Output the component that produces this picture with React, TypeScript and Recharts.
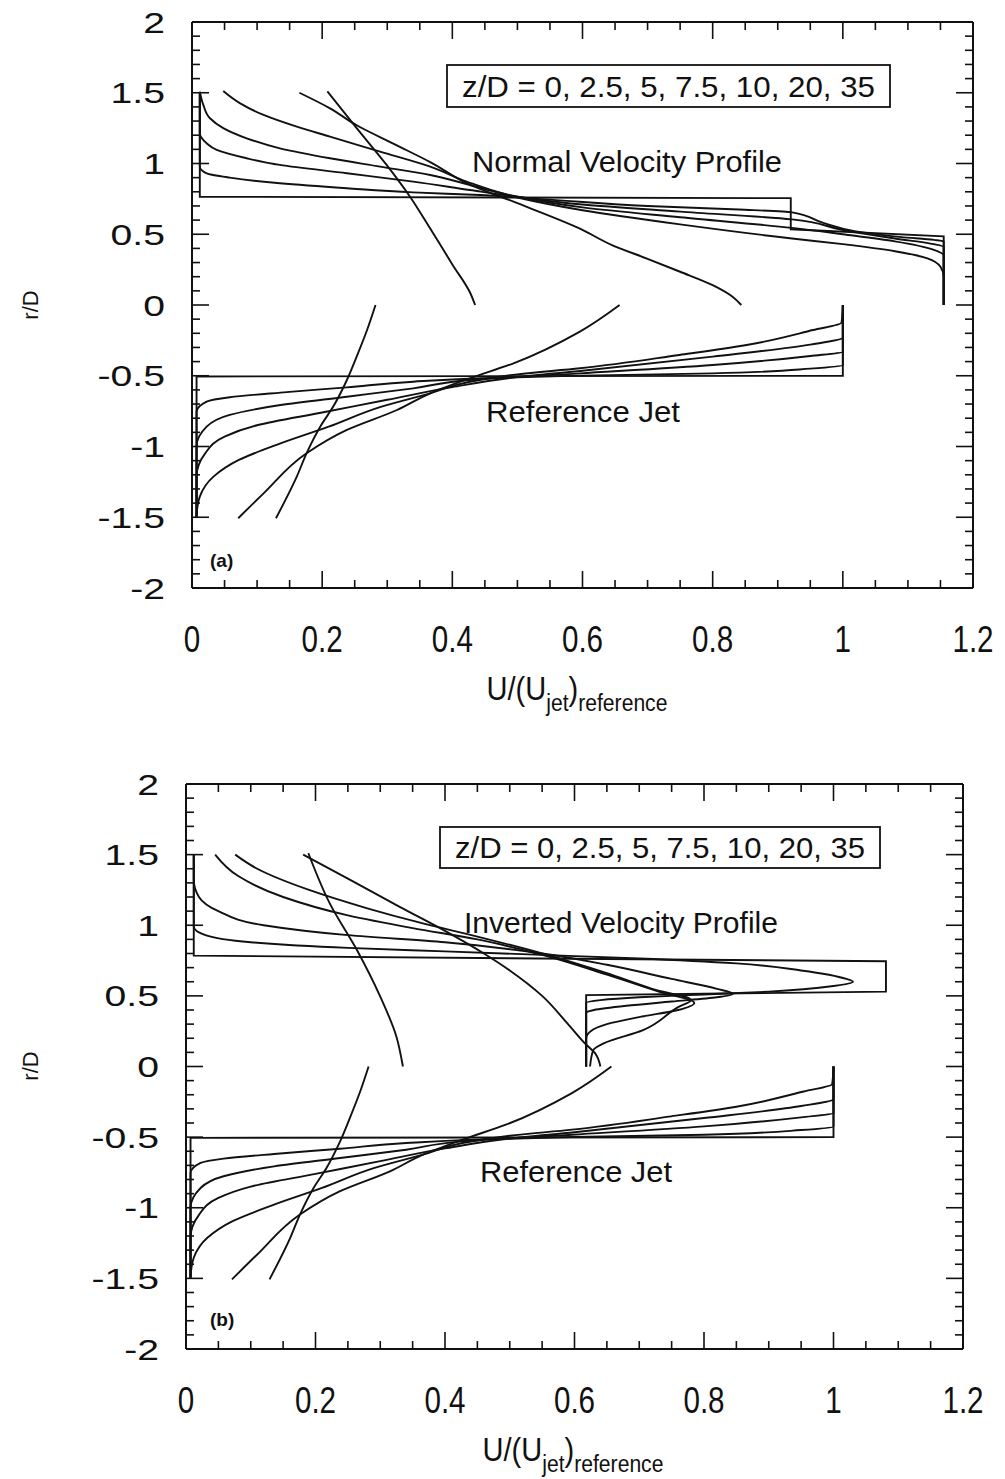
import React from "react";
import { ComposedChart, Line, XAxis, YAxis } from "recharts";

// tick values
const xTicks = [0, 0.05, 0.1, 0.15, 0.2, 0.25, 0.3, 0.35, 0.4, 0.45, 0.5, 0.55, 0.6, 0.65, 0.7, 0.75, 0.8, 0.85, 0.9, 0.95, 1, 1.05, 1.1, 1.15, 1.2];
const xLabels = [0, 0.2, 0.4, 0.6, 0.8, 1, 1.2];
const yTicks = [-2, -1.9, -1.8, -1.7, -1.6, -1.5, -1.4, -1.3, -1.2, -1.1, -1, -0.9, -0.8, -0.7, -0.6, -0.5, -0.4, -0.3, -0.2, -0.1, 0, 0.1, 0.2, 0.3, 0.4, 0.5, 0.6, 0.7, 0.8, 0.9, 1, 1.1, 1.2, 1.3, 1.4, 1.5, 1.6, 1.7, 1.8, 1.9, 2];
const yLabels = [-2, -1.5, -1, -0.5, 0, 0.5, 1, 1.5, 2];

// [U/Ujet, r/D] for z/D = 0, 2.5, 5, 7.5, 10, 20, 35 -- upper jet, normal profile (a)
const normalZ0 = [[0.012, 1.5], [0.012, 0.765], [0.92, 0.755], [0.92, 0.535], [1.155, 0.485], [1.155, 0]];
const normalZ25 = [[0.012, 1.5], [0.012, 0.977], [0.0225, 0.93], [0.058, 0.9], [0.135, 0.86], [0.238, 0.825], [0.34, 0.796], [0.443, 0.777], [0.55, 0.745], [0.7, 0.7], [0.84, 0.675], [0.922, 0.655], [0.97, 0.58], [1.02, 0.52], [1.09, 0.48], [1.14, 0.46], [1.155, 0.45], [1.155, 0]];
const normalZ5 = [[0.012, 1.5], [0.012, 1.213], [0.0225, 1.143], [0.038, 1.096], [0.084, 1.037], [0.135, 0.99], [0.238, 0.931], [0.34, 0.872], [0.427, 0.813], [0.5, 0.765], [0.6, 0.71], [0.75, 0.66], [0.922, 0.605], [1.0, 0.53], [1.08, 0.47], [1.14, 0.43], [1.155, 0.41], [1.155, 0]];
const normalZ75 = [[0.012, 1.508], [0.0174, 1.414], [0.0276, 1.32], [0.048, 1.25], [0.084, 1.178], [0.135, 1.107], [0.212, 1.037], [0.289, 0.978], [0.366, 0.919], [0.427, 0.848], [0.5, 0.765], [0.6, 0.69], [0.75, 0.62], [0.922, 0.545], [1.0, 0.5], [1.08, 0.45], [1.14, 0.39], [1.155, 0.35], [1.155, 0]];
const normalZ10 = [[0.048, 1.512], [0.074, 1.425], [0.11, 1.343], [0.161, 1.26], [0.212, 1.19], [0.289, 1.084], [0.366, 0.978], [0.422, 0.872], [0.5, 0.76], [0.6, 0.67], [0.75, 0.57], [0.922, 0.47], [1.0, 0.43], [1.08, 0.38], [1.13, 0.33], [1.15, 0.27], [1.155, 0.2], [1.155, 0]];
const normalZ20 = [[0.165, 1.5], [0.212, 1.39], [0.253, 1.27], [0.314, 1.13], [0.366, 1.01], [0.427, 0.85], [0.494, 0.73], [0.596, 0.54], [0.647, 0.42], [0.698, 0.33], [0.75, 0.235], [0.8, 0.14], [0.83, 0.06], [0.844, 0]];
const normalZ35 = [[0.208, 1.51], [0.253, 1.25], [0.299, 0.99], [0.335, 0.765], [0.366, 0.54], [0.401, 0.28], [0.427, 0.09], [0.435, 0]];

// upper jet, inverted profile (b)
const invertedZ0 = [[0.012, 1.5], [0.012, 0.785], [1.081, 0.745], [1.081, 0.53], [0.618, 0.505], [0.618, 0]];
const invertedZ25 = [[0.012, 1.5], [0.012, 0.99], [0.03, 0.93], [0.1, 0.88], [0.25, 0.84], [0.4, 0.815], [0.55, 0.79], [0.7, 0.765], [0.85, 0.73], [0.95, 0.68], [1.02, 0.62], [1.03, 0.6], [1.0, 0.57], [0.9, 0.53], [0.8, 0.51], [0.7, 0.49], [0.64, 0.47], [0.618, 0.45], [0.618, 0]];
const invertedZ5 = [[0.012, 1.5], [0.012, 1.32], [0.02, 1.2], [0.05, 1.1], [0.12, 1.0], [0.25, 0.93], [0.4, 0.88], [0.55, 0.8], [0.65, 0.72], [0.75, 0.62], [0.82, 0.55], [0.845, 0.515], [0.82, 0.49], [0.75, 0.46], [0.68, 0.43], [0.63, 0.4], [0.618, 0.38], [0.618, 0]];
const invertedZ75 = [[0.045, 1.5], [0.08, 1.35], [0.15, 1.2], [0.25, 1.07], [0.35, 0.98], [0.45, 0.9], [0.55, 0.79], [0.65, 0.65], [0.73, 0.53], [0.785, 0.45], [0.76, 0.4], [0.7, 0.35], [0.65, 0.3], [0.625, 0.25], [0.618, 0.2], [0.618, 0]];
const invertedZ10 = [[0.076, 1.5], [0.11, 1.4], [0.19, 1.25], [0.28, 1.12], [0.36, 1.02], [0.45, 0.92], [0.55, 0.8], [0.65, 0.66], [0.72, 0.55], [0.78, 0.47], [0.76, 0.42], [0.706, 0.258], [0.645, 0.164], [0.629, 0.117], [0.624, 0]];
const invertedZ20 = [[0.181, 1.5], [0.25, 1.33], [0.33, 1.13], [0.4, 0.96], [0.46, 0.8], [0.5, 0.68], [0.55, 0.5], [0.59, 0.3], [0.616, 0.164], [0.632, 0.093], [0.64, 0]];
const invertedZ35 = [[0.189, 1.51], [0.222, 1.155], [0.264, 0.825], [0.3, 0.495], [0.325, 0.211], [0.335, 0]];

// lower jet, reference (both panels)
const refZ0 = [[0.007, -1.5], [0.007, -0.505], [1.0, -0.5], [1.0, 0]];
const refZ25 = [[0.007, -1.5], [0.007, -0.754], [0.0225, -0.683], [0.058, -0.652], [0.136, -0.619], [0.238, -0.582], [0.34, -0.542], [0.443, -0.518], [0.596, -0.499], [0.8, -0.483], [0.95, -0.45], [1.0, -0.424], [1.0, 0]];
const refZ5 = [[0.007, -1.5], [0.007, -1.0], [0.0225, -0.86], [0.058, -0.777], [0.136, -0.707], [0.238, -0.648], [0.34, -0.589], [0.427, -0.53], [0.596, -0.483], [0.8, -0.424], [0.95, -0.36], [1.0, -0.33], [1.0, 0]];
const refZ75 = [[0.007, -1.5], [0.007, -1.21], [0.02, -1.05], [0.05, -0.93], [0.1, -0.85], [0.2, -0.76], [0.3, -0.67], [0.4, -0.58], [0.5, -0.51], [0.6, -0.465], [0.8, -0.365], [0.95, -0.28], [1.0, -0.23], [1.0, 0]];
const refZ10 = [[0.007, -1.48], [0.012, -1.354], [0.033, -1.213], [0.072, -1.095], [0.136, -0.978], [0.21, -0.86], [0.29, -0.72], [0.366, -0.624], [0.427, -0.542], [0.5, -0.49], [0.596, -0.447], [0.749, -0.353], [0.852, -0.283], [0.954, -0.177], [0.998, -0.125], [1.0, 0]];
const refZ20 = [[0.071, -1.507], [0.11, -1.331], [0.176, -1.048], [0.238, -0.883], [0.315, -0.742], [0.366, -0.624], [0.427, -0.518], [0.494, -0.412], [0.596, -0.188], [0.657, 0]];
const refZ35 = [[0.129, -1.507], [0.161, -1.213], [0.176, -1.048], [0.197, -0.86], [0.217, -0.718], [0.238, -0.53], [0.253, -0.365], [0.269, -0.177], [0.282, 0]];

const normalSet = [normalZ0, normalZ25, normalZ5, normalZ75, normalZ10, normalZ20, normalZ35];
const invertedSet = [invertedZ0, invertedZ25, invertedZ5, invertedZ75, invertedZ10, invertedZ20, invertedZ35];
const refSet = [refZ0, refZ25, refZ5, refZ75, refZ10, refZ20, refZ35];

const FONT = "'Liberation Sans', Arial, Helvetica, sans-serif";
const INK = "#111";

const toRows = (pts: number[][]) => pts.map(([u, r]) => ({ u, r })).sort((a, b) => a.r - b.r);

const BottomTick = (props: any) => {
  const { x, y, payload } = props;
  const major = xLabels.includes(payload.value);
  return (
    <g>
      <line x1={x} x2={x} y1={y} y2={y - (major ? 17 : 8)} stroke={INK} strokeWidth={1.6} />
      {major && (
        <text transform={`translate(${x},${y + 64}) scale(0.8,1)`} textAnchor="middle" fontSize={37} fontFamily={FONT} fill={INK}>
          {payload.value}
        </text>
      )}
    </g>
  );
};

const TopTick = (props: any) => {
  const { x, y, payload } = props;
  const major = xLabels.includes(payload.value);
  return <line x1={x} x2={x} y1={y} y2={y + (major ? 17 : 8)} stroke={INK} strokeWidth={1.6} />;
};

const LeftTick = (props: any) => {
  const { x, y, payload } = props;
  const major = yLabels.includes(payload.value);
  return (
    <g>
      <line x1={x} x2={x + (major ? 17 : 8)} y1={y} y2={y} stroke={INK} strokeWidth={1.6} />
      {major && (
        <text transform={`translate(${x - 27},${y + 10.5}) scale(1.35,1)`} textAnchor="end" fontSize={29} fontFamily={FONT} fill={INK}>
          {payload.value}
        </text>
      )}
    </g>
  );
};

const RightTick = (props: any) => {
  const { x, y, payload } = props;
  const major = yLabels.includes(payload.value);
  return <line x1={x} x2={x - (major ? 17 : 8)} y1={y} y2={y} stroke={INK} strokeWidth={1.6} />;
};

interface PanelProps {
  height: number;
  top: number;
  bottom: number;
  left: number;
  right: number;
  upper: number[][][];
}

const frame = { stroke: INK, strokeWidth: 2 };

const Panel = ({ height, top, bottom, left, right, upper }: PanelProps) => {
  const profiles = [...upper, ...refSet];
  return (
    <ComposedChart width={1005} height={height} margin={{ top: 0, right: 0, bottom: 0, left: 0 }}>
      <XAxis xAxisId="b" type="number" dataKey="u" domain={[0, 1.2]} ticks={xTicks} interval={0} height={bottom}
        tickSize={0} tickMargin={0} tickLine={false} axisLine={frame} tick={(p: any) => <BottomTick {...p} />} allowDataOverflow />
      <XAxis xAxisId="t" orientation="top" type="number" dataKey="u" domain={[0, 1.2]} ticks={xTicks} interval={0} height={top}
        tickSize={0} tickMargin={0} tickLine={false} axisLine={frame} tick={(p: any) => <TopTick {...p} />} allowDataOverflow />
      <YAxis yAxisId="l" type="number" domain={[-2, 2]} ticks={yTicks} interval={0} width={left}
        tickSize={0} tickMargin={0} tickLine={false} axisLine={frame} tick={(p: any) => <LeftTick {...p} />} allowDataOverflow />
      <YAxis yAxisId="r" orientation="right" type="number" domain={[-2, 2]} ticks={yTicks} interval={0} width={right}
        tickSize={0} tickMargin={0} tickLine={false} axisLine={frame} tick={(p: any) => <RightTick {...p} />} allowDataOverflow />
      {profiles.map((pts, i) => (
        <Line key={i} xAxisId="b" yAxisId="l" data={toRows(pts)} dataKey="r"
          type={i % 7 === 0 ? "linear" : "monotoneY"} stroke={INK} strokeWidth={1.9}
          dot={false} activeDot={false} isAnimationActive={false} />
      ))}
    </ComposedChart>
  );
};

const XTitle = ({ cx, y }: { cx: number; y: number }) => (
  <text transform={`translate(${cx},${y}) scale(0.88,1)`} textAnchor="middle" fontFamily={FONT} fontSize={33} fill={INK}>
    U/(U
    <tspan fontSize={24} dy={11}>jet</tspan>
    <tspan fontSize={33} dy={-11}>)</tspan>
    <tspan fontSize={24} dy={11}>reference</tspan>
  </text>
);

const legendText = "z/D = 0, 2.5, 5, 7.5, 10, 20, 35";

const Overlay = () => (
  <svg width={1005} height={1479} style={{ position: "absolute", left: 0, top: 0, pointerEvents: "none" }}>
    <g fontFamily={FONT} fill={INK}>
      <text transform="translate(38,305) rotate(-90)" textAnchor="middle" fontSize={22}>r/D</text>
      <text transform="translate(38,1066) rotate(-90)" textAnchor="middle" fontSize={22}>r/D</text>
      <XTitle cx={577} y={700} />
      <XTitle cx={573} y={1461} />

      <rect x={447} y={65} width={443} height={42} fill="#fff" stroke={INK} strokeWidth={1.8} />
      <text x={462} y={97} fontSize={30} textLength={413} lengthAdjust="spacingAndGlyphs">{legendText}</text>
      <text x={472} y={172} fontSize={29} textLength={310} lengthAdjust="spacingAndGlyphs">Normal Velocity Profile</text>
      <text x={486} y={422} fontSize={29} textLength={194} lengthAdjust="spacingAndGlyphs">Reference Jet</text>
      <text x={210} y={567} fontSize={19} fontWeight="bold">(a)</text>

      <rect x={440} y={827} width={440} height={41} fill="#fff" stroke={INK} strokeWidth={1.8} />
      <text x={455} y={858} fontSize={30} textLength={410} lengthAdjust="spacingAndGlyphs">{legendText}</text>
      <text x={464} y={933} fontSize={29} textLength={314} lengthAdjust="spacingAndGlyphs">Inverted Velocity Profile</text>
      <text x={480} y={1182} fontSize={29} textLength={192} lengthAdjust="spacingAndGlyphs">Reference Jet</text>
      <text x={210} y={1326} fontSize={19} fontWeight="bold">(b)</text>
    </g>
  </svg>
);

export default function App() {
  return (
    <div style={{ position: "absolute", left: 0, top: 0, width: 1005, height: 1479, background: "#fff" }}>
      <div style={{ position: "absolute", left: 0, top: 0 }}>
        <Panel height={740} top={22} bottom={152} left={192} right={32} upper={normalSet} />
      </div>
      <div style={{ position: "absolute", left: 0, top: 740 }}>
        <Panel height={739} top={44} bottom={130} left={186} right={42} upper={invertedSet} />
      </div>
      <Overlay />
    </div>
  );
}
